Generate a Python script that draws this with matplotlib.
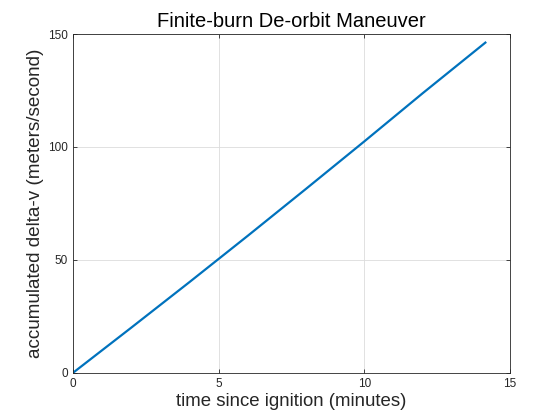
import matplotlib
matplotlib.use('Agg')
import matplotlib.pyplot as plt

# burn time (minutes) and accumulated delta-v (m/s)
t_min = [0, 2, 4, 6, 8, 10, 12, 14.15]
dv = [0, 20.0, 40.2, 60.7, 81.5, 102.5, 123.8, 146.2]

plt.rcParams['font.family'] = ['Liberation Sans', 'DejaVu Sans']

fig = plt.figure(figsize=(5.6, 4.2), dpi=100)
ax = fig.add_axes([0.130, 0.112, 0.781, 0.807])
ax.plot(t_min, dv, color='#0072BD', lw=1.6)

ax.set_xlim(0, 15)
ax.set_ylim(0, 150)
ax.set_xticks([0, 5, 10, 15])
ax.set_yticks([0, 50, 100, 150])
ax.grid(True, color='#dcdcdc', lw=0.6)
ax.set_axisbelow(True)
ax.tick_params(direction='in', top=True, right=True, labelsize=8.5,
               colors='#262626', length=3, width=0.6)
for s in ax.spines.values():
    s.set_color('#262626')
    s.set_linewidth(0.6)

ax.set_title('Finite-burn De-orbit Maneuver', fontsize=14.5, pad=5)
ax.set_xlabel('time since ignition (minutes)', fontsize=13.4, color='#262626', labelpad=2)
ax.set_ylabel('accumulated delta-v (meters/second)', fontsize=13.6, color='#262626', labelpad=3)

fig.savefig('out.png', dpi=100)
